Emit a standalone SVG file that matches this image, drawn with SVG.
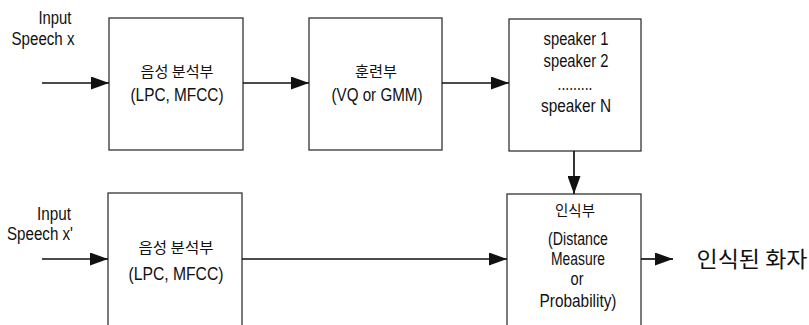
<svg xmlns="http://www.w3.org/2000/svg" width="809" height="325" viewBox="0 0 809 325">
<defs>
<style>
.box{fill:#fff;stroke:#222;stroke-width:1.2}
.t{font-family:"Liberation Sans","Noto Sans CJK KR",sans-serif;font-size:17.5px;fill:#111;text-anchor:middle}
.k{font-family:"Noto Sans CJK KR","Liberation Sans",sans-serif;font-size:15px;fill:#111;text-anchor:middle}
.ln{stroke:#111;stroke-width:1.7;fill:none}
</style>
<marker id="ah" viewBox="0 0 18 13" refX="18" refY="6.5" markerWidth="18" markerHeight="13" markerUnits="userSpaceOnUse" orient="auto">
<path d="M0,0 L18,6.5 L0,13 Z" fill="#111"/>
</marker>
</defs>
<rect width="809" height="325" fill="#fff"/>
<g id="in1">
<text class="t" x="55" y="24" textLength="33" lengthAdjust="spacingAndGlyphs">Input</text>
<text class="t" x="43" y="45" textLength="63" lengthAdjust="spacingAndGlyphs">Speech x</text>
</g>
<g id="in2">
<text class="t" x="54" y="220" textLength="34" lengthAdjust="spacingAndGlyphs">Input</text>
<text class="t" x="40" y="240" textLength="66" lengthAdjust="spacingAndGlyphs">Speech x'</text>
</g>
<g id="analysis1">
<rect class="box" x="109" y="18" width="134" height="132"/>
<text class="k" x="177" y="77" textLength="73" lengthAdjust="spacingAndGlyphs">음성 분석부</text>
<text class="t" x="177" y="101" textLength="93" lengthAdjust="spacingAndGlyphs">(LPC, MFCC)</text>
</g>
<g id="training">
<rect class="box" x="309" y="18" width="133" height="132"/>
<text class="k" x="376" y="77" textLength="42" lengthAdjust="spacingAndGlyphs">훈련부</text>
<text class="t" x="377" y="101" textLength="91" lengthAdjust="spacingAndGlyphs">(VQ or GMM)</text>
</g>
<g id="speakers">
<rect class="box" x="509" y="19" width="132" height="132"/>
<text class="t" x="576" y="45" textLength="65" lengthAdjust="spacingAndGlyphs">speaker 1</text>
<text class="t" x="576" y="67" textLength="65" lengthAdjust="spacingAndGlyphs">speaker 2</text>
<text class="t" x="575" y="90" textLength="35" lengthAdjust="spacingAndGlyphs">.........</text>
<text class="t" x="576" y="112" textLength="70" lengthAdjust="spacingAndGlyphs">speaker N</text>
</g>
<g id="analysis2">
<rect class="box" x="108" y="193" width="134" height="140"/>
<text class="k" x="176" y="253" textLength="75" lengthAdjust="spacingAndGlyphs">음성 분석부</text>
<text class="t" x="176" y="280" textLength="95" lengthAdjust="spacingAndGlyphs">(LPC, MFCC)</text>
</g>
<g id="recognition">
<rect class="box" x="507" y="194" width="134" height="140"/>
<text class="k" x="575" y="216" textLength="40" lengthAdjust="spacingAndGlyphs">인식부</text>
<text class="t" x="578" y="245" textLength="60" lengthAdjust="spacingAndGlyphs">(Distance</text>
<text class="t" x="578" y="265" textLength="54" lengthAdjust="spacingAndGlyphs">Measure</text>
<text class="t" x="577" y="285" textLength="13" lengthAdjust="spacingAndGlyphs">or</text>
<text class="t" x="578" y="307" textLength="77" lengthAdjust="spacingAndGlyphs">Probability)</text>
</g>
<g id="output">
<text x="752" y="267" font-family="Noto Sans CJK KR, sans-serif" font-size="22" fill="#111" text-anchor="middle" textLength="111" lengthAdjust="spacingAndGlyphs">인식된 화자</text>
</g>
<g id="connectors">
<line class="ln" x1="42" y1="83" x2="109" y2="83" marker-end="url(#ah)"/>
<line class="ln" x1="243" y1="83" x2="309" y2="83" marker-end="url(#ah)"/>
<line class="ln" x1="442" y1="83" x2="509" y2="83" marker-end="url(#ah)"/>
<line class="ln" x1="574" y1="151" x2="574" y2="194" marker-end="url(#ah)"/>
<line class="ln" x1="42" y1="259" x2="108" y2="259" marker-end="url(#ah)"/>
<line class="ln" x1="242" y1="259" x2="507" y2="259" marker-end="url(#ah)"/>
<line class="ln" x1="641" y1="259" x2="673" y2="259" marker-end="url(#ah)"/>
</g>
</svg>
